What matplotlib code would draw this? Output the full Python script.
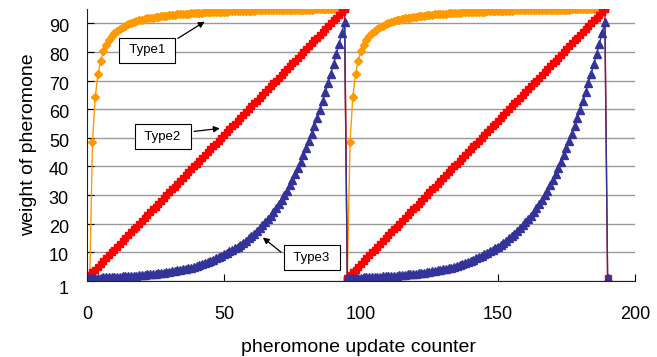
import numpy as np
import matplotlib
matplotlib.use("Agg")
import matplotlib.pyplot as plt
from matplotlib.transforms import ScaledTranslation

plt.rcParams['font.family'] = ['Liberation Sans', 'DejaVu Sans']

# one pheromone cycle (95 updates) per type
type1_cycle = [
    1.0, 48.5, 64.3, 72.3, 77.0, 80.2, 82.4, 84.1, 85.4, 86.5,
    87.4, 88.1, 88.7, 89.2, 89.7, 90.1, 90.4, 90.7, 91.0, 91.3,
    91.5, 91.7, 91.9, 92.0, 92.2, 92.3, 92.5, 92.6, 92.7, 92.8,
    92.9, 93.0, 93.1, 93.2, 93.3, 93.4, 93.4, 93.5, 93.6, 93.6,
    93.7, 93.7, 93.8, 93.8, 93.9, 93.9, 94.0, 94.0, 94.1, 94.1,
    94.1, 94.2, 94.2, 94.2, 94.3, 94.3, 94.3, 94.4, 94.4, 94.4,
    94.4, 94.5, 94.5, 94.5, 94.5, 94.6, 94.6, 94.6, 94.6, 94.6,
    94.7, 94.7, 94.7, 94.7, 94.7, 94.8, 94.8, 94.8, 94.8, 94.8,
    94.8, 94.8, 94.9, 94.9, 94.9, 94.9, 94.9, 94.9, 94.9, 94.9,
    95.0, 95.0, 95.0, 95.0, 95.0,
]
type2_cycle = [
    1, 2, 3, 4, 5, 6, 7, 8, 9, 10,
    11, 12, 13, 14, 15, 16, 17, 18, 19, 20,
    21, 22, 23, 24, 25, 26, 27, 28, 29, 30,
    31, 32, 33, 34, 35, 36, 37, 38, 39, 40,
    41, 42, 43, 44, 45, 46, 47, 48, 49, 50,
    51, 52, 53, 54, 55, 56, 57, 58, 59, 60,
    61, 62, 63, 64, 65, 66, 67, 68, 69, 70,
    71, 72, 73, 74, 75, 76, 77, 78, 79, 80,
    81, 82, 83, 84, 85, 86, 87, 88, 89, 90,
    91, 92, 93, 94, 95,
]
type3_cycle = [
    1.0, 1.04, 1.08, 1.12, 1.16, 1.2, 1.25, 1.3, 1.35, 1.4,
    1.45, 1.5, 1.55, 1.6, 1.65, 1.7, 1.77, 1.84, 1.9, 2.0,
    2.1, 2.2, 2.3, 2.4, 2.5, 2.6, 2.72, 2.84, 2.96, 3.08,
    3.2, 3.35, 3.5, 3.67, 3.84, 4.02, 4.2, 4.45, 4.7, 4.95,
    5.2, 5.52, 5.86, 6.22, 6.6, 7.0, 7.45, 7.9, 8.4, 8.85,
    9.3, 9.8, 10.35, 10.9, 11.45, 12.0, 12.7, 13.4, 14.1, 14.85,
    15.6, 16.5, 17.4, 18.4, 19.4, 20.5, 21.6, 22.8, 24.1, 25.4,
    26.8, 28.3, 29.9, 31.6, 33.4, 35.3, 37.3, 39.4, 41.6, 43.9,
    46.3, 48.8, 51.4, 54.1, 56.9, 59.8, 62.8, 65.9, 69.1, 72.4,
    75.8, 79.3, 82.9, 86.6, 90.4,
]
restart_value = 1  # first point of the next (cut off) cycle

x_ticks = [0, 50, 100, 150, 200]
y_ticks = [0, 10, 20, 30, 40, 50, 60, 70, 80, 90]
y_tick_labels = ['1', '10', '20', '30', '40', '50', '60', '70', '80', '90']

# two cycles; type1's first cycle starts one update late
type1 = type1_cycle[:-1] + type1_cycle
type2 = type2_cycle + type2_cycle + [restart_value]
type3 = type3_cycle + type3_cycle + [restart_value]
x1 = np.arange(1, len(type1) + 1)
x2 = np.arange(len(type2))
x3 = np.arange(len(type3))

fig = plt.figure(figsize=(6.57, 3.57), dpi=100)
ax = fig.add_axes([87 / 657, 76 / 357, 548 / 657, 272 / 357])

ax.plot(x1, type1, color='#FF9900', lw=1, marker='D', ms=3.8, mec='#FF9900')
ax.plot(x2, type2, color='#FF0000', lw=1, marker='s', ms=5, mec='#FF0000')
ax.plot(x3, type3, color='#333399', lw=1, marker='^', ms=5.3, mec='#333399')

ax.set_xlim(0, 200)
ax.set_ylim(0, 95)
ax.set_xticks(x_ticks)
ax.set_yticks(y_ticks)
ax.set_yticklabels(y_tick_labels)
ax.yaxis.grid(True, color='#999999', lw=1)
ax.set_axisbelow(True)
for s in ['top', 'right']:
    ax.spines[s].set_visible(False)
for s in ['left', 'bottom']:
    ax.spines[s].set_color('#222222')
ax.tick_params(axis='x', direction='in', length=5, pad=18, labelsize=13)
ax.tick_params(axis='y', direction='in', length=5, pad=13, labelsize=13)

# the y labels sit a little under their grid lines, the "1" even more
for i, lab in enumerate(ax.get_yticklabels()):
    dy = -6.5 if i == 0 else -2.5
    lab.set_transform(lab.get_transform() +
                      ScaledTranslation(0, dy / 100, fig.dpi_scale_trans))

ax.set_xlabel('pheromone update counter', fontsize=14)
ax.set_ylabel('weight of pheromone', fontsize=14)
ax.xaxis.set_label_coords(0.495, -0.215)
ax.yaxis.set_label_coords(-0.091, 0.5)

box = dict(boxstyle='square,pad=0.5', fc='white', ec='black', lw=0.8)
arrow = dict(arrowstyle='-|>', color='black', lw=0.9, mutation_scale=9)
ax.annotate(' Type1 ', xy=(43.8, 91.1), xytext=(21.9, 80.6), fontsize=9.5,
            ha='center', va='center', bbox=box,
            arrowprops=dict(arrow, relpos=(1, 1)))
ax.annotate(' Type2 ', xy=(49.5, 53.4), xytext=(27.7, 50.4), fontsize=9.5,
            ha='center', va='center', bbox=box,
            arrowprops=dict(arrow, relpos=(1, 0.85)))
ax.annotate(' Type3 ', xy=(63.4, 15.8), xytext=(82.0, 8.2), fontsize=9.5,
            ha='center', va='center', bbox=box,
            arrowprops=dict(arrow, relpos=(0, 0.32)))

fig.savefig('out.png', dpi=100)
